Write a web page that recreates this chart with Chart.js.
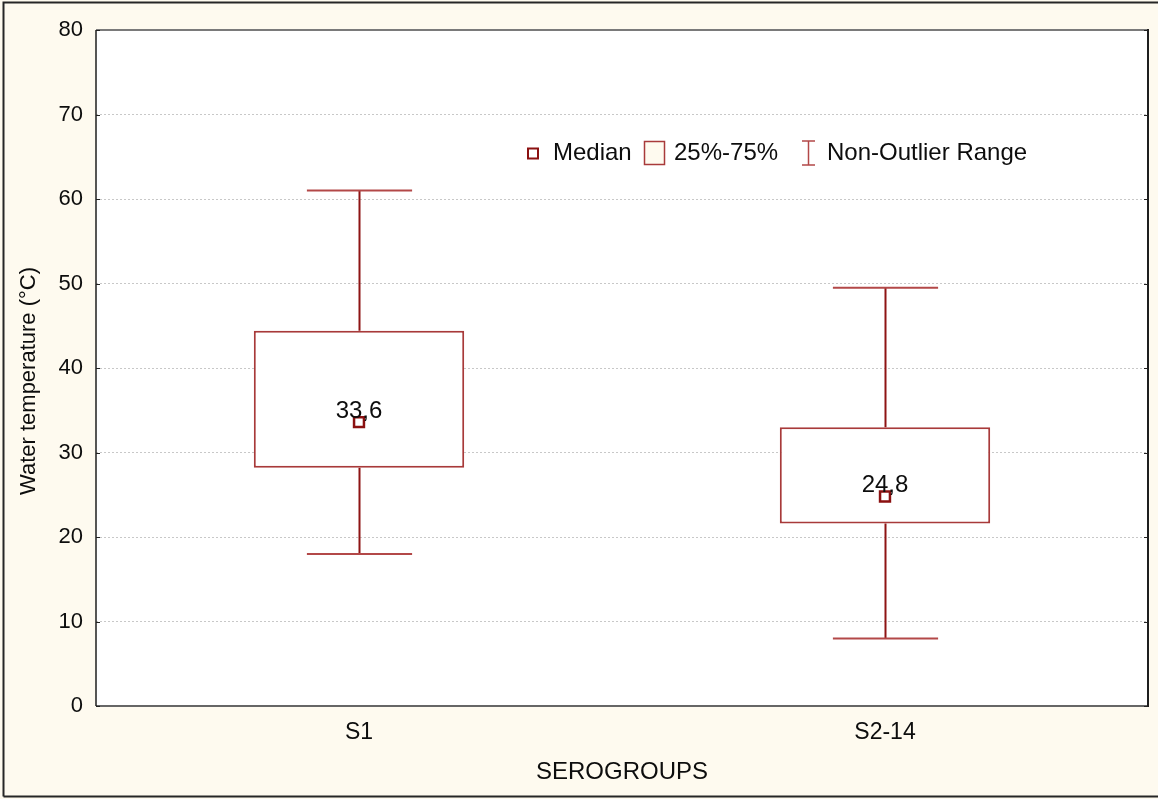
<!DOCTYPE html>
<html>
<head>
<meta charset="utf-8">
<title>Water temperature by serogroup</title>
<script src="https://cdn.jsdelivr.net/npm/chart.js@4/dist/chart.umd.min.js"></script>
<style>
  html, body { margin: 0; padding: 0; background: #fefaef; }
  canvas { display: block; }
</style>
</head>
<body>
<canvas id="chart" width="1158" height="799"></canvas>
<script>
// Serogroups and their water-temperature summaries (°C)
const categories = ['S1', 'S2-14'];
const whiskerMin = [18.0, 8.0];
const quartile1  = [28.2, 21.6];
const medians    = [33.6, 24.8];
const quartile3  = [44.4, 33.0];
const whiskerMax = [61.0, 49.5];
const yTicks     = [0, 10, 20, 30, 40, 50, 60, 70, 80];

const BOX_RED = '#a83a3a';
const WHISKER_RED = '#8e1414';
const MEDIAN_RED = '#8b1111';
const CREAM = '#fefaef';
const TEXT = '#0d0d0d';
const FONT = "'Liberation Sans', Arial, sans-serif";

const medianLabels = medians.map(v => v.toFixed(1).replace('.', ','));

// Page background, white plot area and outer frame
const backdrop = {
  id: 'backdrop',
  beforeDraw(chart) {
    const { ctx, chartArea: a, width, height } = chart;
    ctx.save();
    ctx.fillStyle = CREAM;
    ctx.fillRect(0, 0, width, height);
    ctx.fillStyle = '#ffffff';
    ctx.fillRect(a.left, a.top, a.right - a.left, a.bottom - a.top);
    ctx.restore();
  },
  afterDraw(chart) {
    const { ctx, chartArea: a, width, height } = chart;
    const y = chart.scales.y;
    ctx.save();
    // plot frame
    ctx.lineWidth = 2;
    ctx.strokeStyle = '#7a7a7a';
    ctx.beginPath(); ctx.moveTo(a.left, a.top); ctx.lineTo(a.right, a.top); ctx.stroke();
    ctx.strokeStyle = '#666666';
    ctx.beginPath(); ctx.moveTo(a.left, a.bottom); ctx.lineTo(a.right, a.bottom); ctx.stroke();
    ctx.strokeStyle = '#1e1e1e';
    ctx.lineWidth = 1.5;
    ctx.beginPath(); ctx.moveTo(a.left, a.top); ctx.lineTo(a.left, a.bottom); ctx.stroke();
    ctx.lineWidth = 2;
    ctx.beginPath(); ctx.moveTo(a.right, a.top - 1); ctx.lineTo(a.right, a.bottom + 1); ctx.stroke();
    // small inward ticks on both vertical edges
    ctx.lineWidth = 1;
    ctx.strokeStyle = '#222222';
    yTicks.forEach(t => {
      const py = Math.round(y.getPixelForValue(t)) + 0.5;
      ctx.beginPath();
      ctx.moveTo(a.left, py); ctx.lineTo(a.left + 4, py);
      ctx.moveTo(a.right - 4, py); ctx.lineTo(a.right, py);
      ctx.stroke();
    });
    // outer page border (left, top, bottom)
    ctx.strokeStyle = '#262626';
    ctx.lineWidth = 2;
    ctx.beginPath();
    ctx.moveTo(3.5, height - 2.5); ctx.lineTo(3.5, 2.5); ctx.lineTo(width, 2.5);
    ctx.moveTo(3.5, height - 2.5); ctx.lineTo(width, height - 2.5);
    ctx.stroke();

    // y axis title
    ctx.fillStyle = TEXT;
    ctx.font = '22px ' + FONT;
    ctx.textAlign = 'center';
    ctx.textBaseline = 'middle';
    ctx.translate(29, 381);
    ctx.rotate(-Math.PI / 2);
    ctx.fillText('Water temperature (°C)', 0, 0);
    ctx.restore();
  }
};

// Whiskers (non-outlier range) drawn through the chart's scales
const whiskers = {
  id: 'whiskers',
  beforeDatasetsDraw(chart) {
    const { ctx } = chart;
    const x = chart.scales.x, y = chart.scales.y;
    const boxMeta = chart.getDatasetMeta(0);
    ctx.save();
    categories.forEach((c, i) => {
      const bar = boxMeta.data[i];
      const cx = Math.round(x.getPixelForValue(i)) + 0.5;
      const half = bar.width / 4;
      const yMin = y.getPixelForValue(whiskerMin[i]);
      const yQ1 = y.getPixelForValue(quartile1[i]);
      const yQ3 = y.getPixelForValue(quartile3[i]);
      const yMax = y.getPixelForValue(whiskerMax[i]);
      ctx.strokeStyle = WHISKER_RED;
      ctx.lineWidth = 2;
      ctx.beginPath();
      ctx.moveTo(cx, yQ3); ctx.lineTo(cx, yMax);
      ctx.moveTo(cx, yQ1); ctx.lineTo(cx, yMin);
      ctx.stroke();
      ctx.strokeStyle = '#b34848';
      ctx.beginPath();
      ctx.moveTo(cx - half, yMax); ctx.lineTo(cx + half, yMax);
      ctx.moveTo(cx - half, yMin); ctx.lineTo(cx + half, yMin);
      ctx.stroke();
    });
    ctx.restore();
  }
};

// Median value labels and the legend row
const annotations = {
  id: 'annotations',
  afterDatasetsDraw(chart) {
    const { ctx } = chart;
    const x = chart.scales.x, y = chart.scales.y;
    ctx.save();
    ctx.fillStyle = TEXT;
    ctx.font = '24px ' + FONT;
    ctx.textAlign = 'center';
    ctx.textBaseline = 'alphabetic';
    medians.forEach((m, i) => {
      ctx.fillText(medianLabels[i], x.getPixelForValue(i), y.getPixelForValue(m) - 4);
    });

    // legend
    const ly = 153.5;
    ctx.font = '24px ' + FONT;
    ctx.textAlign = 'left';
    ctx.textBaseline = 'middle';
    ctx.lineWidth = 2;
    ctx.strokeStyle = MEDIAN_RED;
    ctx.fillStyle = '#ffffff';
    ctx.fillRect(528, ly - 5, 10, 10);
    ctx.strokeRect(528, ly - 5, 10, 10);
    ctx.fillStyle = TEXT;
    ctx.fillText('Median', 553, ly);

    ctx.fillStyle = CREAM;
    ctx.strokeStyle = BOX_RED;
    ctx.lineWidth = 1.5;
    ctx.fillRect(644.5, 141.5, 20, 23);
    ctx.strokeRect(644.5, 141.5, 20, 23);
    ctx.fillStyle = TEXT;
    ctx.fillText('25%-75%', 674, ly);

    ctx.strokeStyle = '#b34848';
    ctx.lineWidth = 1.5;
    ctx.beginPath();
    ctx.moveTo(808.5, 141); ctx.lineTo(808.5, 165);
    ctx.moveTo(802, 141); ctx.lineTo(815, 141);
    ctx.moveTo(802, 165); ctx.lineTo(815, 165);
    ctx.stroke();
    ctx.fillStyle = TEXT;
    ctx.fillText('Non-Outlier Range', 827, ly);
    ctx.restore();
  }
};

new Chart(document.getElementById('chart'), {
  type: 'bar',
  data: {
    labels: categories,
    datasets: [
      {
        label: '25%-75%',
        data: quartile1.map((q, i) => [q, quartile3[i]]),
        backgroundColor: '#ffffff',
        borderColor: BOX_RED,
        borderWidth: 2,
        borderSkipped: false,
        categoryPercentage: 1,
        barPercentage: 0.4,
        order: 2
      },
      {
        type: 'line',
        label: 'Median',
        data: medians,
        showLine: false,
        pointStyle: 'rect',
        pointRadius: 7,
        pointHoverRadius: 7,
        pointBackgroundColor: '#ffffff',
        pointBorderColor: MEDIAN_RED,
        pointBorderWidth: 2.5,
        order: 1
      }
    ]
  },
  options: {
    responsive: false,
    animation: false,
    events: [],
    layout: { padding: { top: 30, right: 10, left: 0, bottom: 0 } },
    plugins: {
      legend: { display: false },
      tooltip: { enabled: false }
    },
    scales: {
      x: {
        offset: true,
        grid: { display: false, drawTicks: false },
        border: { display: false },
        ticks: { color: TEXT, font: { family: FONT, size: 23 }, padding: 13 },
        title: {
          display: true,
          text: 'SEROGROUPS',
          color: TEXT,
          font: { family: FONT, size: 24 },
          padding: { top: 0, bottom: 12 }
        },
        afterFit(scale) { scale.height = 93; }
      },
      y: {
        min: 0,
        max: 80,
        afterBuildTicks(scale) { scale.ticks = yTicks.map(v => ({ value: v })); },
        grid: {
          drawTicks: false,
          color: ctx => (ctx.tick && (ctx.tick.value === 0 || ctx.tick.value === 80)) ? 'rgba(0,0,0,0)' : '#c8c8c8',
          lineWidth: 1
        },
        border: { display: false, dash: [2, 2] },
        ticks: { color: TEXT, font: { family: FONT, size: 22 }, padding: 13 },
        afterFit(scale) { scale.width = 96; }
      }
    }
  },
  plugins: [backdrop, whiskers, annotations]
});
</script>
</body>
</html>
